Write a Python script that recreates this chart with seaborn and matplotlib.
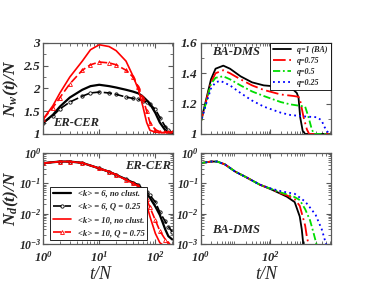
import numpy as np
import matplotlib
matplotlib.use("Agg")
import matplotlib.pyplot as plt
from matplotlib.ticker import AutoMinorLocator, LogLocator, NullFormatter
import seaborn as sns

# top left: N_w(t)/N, ER-CER
tl_x = [1, 1.5, 2, 3, 5, 7, 10, 15, 20, 30, 40, 50, 60, 70, 80, 100, 120, 150, 170, 200]
tl_k6 = [1.24, 1.42, 1.6, 1.8, 1.97, 2.05, 2.08, 2.05, 2.02, 1.97, 1.93, 1.89, 1.82, 1.74, 1.66, 1.46, 1.25, 1.08, 1.03, 1.02]
tl_k6q = [1.24, 1.4, 1.55, 1.7, 1.83, 1.9, 1.92, 1.9, 1.87, 1.81, 1.78, 1.76, 1.73, 1.7, 1.65, 1.54, 1.36, 1.16, 1.08, 1.03]
tl_k10 = [1.32, 1.62, 1.9, 2.25, 2.6, 2.85, 2.96, 2.92, 2.83, 2.6, 2.27, 1.97, 1.6, 1.25, 1.08, 1.04, 1.03, 1.03, 1.03, 1.03]
tl_k10q = [1.32, 1.58, 1.8, 2.1, 2.4, 2.52, 2.58, 2.56, 2.52, 2.4, 2.25, 2.03, 1.78, 1.5, 1.25, 1.09, 1.05, 1.04, 1.04, 1.04]

# bottom left: N_d(t)/N, ER-CER
bl_x = [1, 2, 3, 5, 10, 15, 20, 30, 40, 50, 60, 70, 80, 100, 120, 150, 170, 200]
bl_k6 = [0.46, 0.52, 0.52, 0.47, 0.31, 0.24, 0.19, 0.135, 0.105, 0.085, 0.062, 0.045, 0.033, 0.017, 0.009, 0.003, 0.0018, 0.0014]
bl_k6q = [0.46, 0.52, 0.52, 0.47, 0.31, 0.24, 0.19, 0.135, 0.105, 0.088, 0.066, 0.053, 0.04, 0.024, 0.011, 0.0055, 0.0037, 0.0025]
bl_k10 = [0.46, 0.52, 0.52, 0.47, 0.31, 0.24, 0.19, 0.13, 0.1, 0.08, 0.05, 0.02, 0.008, 0.0022, 0.0011, 0.0008, 0.0007, 0.0007]
bl_k10q = [0.46, 0.52, 0.52, 0.47, 0.31, 0.24, 0.19, 0.13, 0.1, 0.082, 0.055, 0.03, 0.016, 0.006, 0.0027, 0.0014, 0.0011, 0.0008]

# top right: N_w(t)/N, BA-DMS
tr_x_q1 = [1, 1.5, 2, 2.7, 4.5, 7, 14, 30, 65, 200, 465, 575, 645, 720, 850, 1000, 5000]
tr_q1 = [1.07, 1.24, 1.36, 1.43, 1.45, 1.43, 1.38, 1.34, 1.32, 1.31, 1.29, 1.27, 1.24, 1.11, 1.02, 1.0, 1.0]
tr_x_q75 = [1, 1.5, 2, 2.7, 4.5, 7, 14, 30, 65, 200, 465, 645, 720, 900, 1120, 1300, 5000]
tr_q75 = [1.07, 1.23, 1.34, 1.4, 1.42, 1.4, 1.36, 1.32, 1.29, 1.26, 1.25, 1.245, 1.22, 1.11, 1.03, 1.0, 1.0]
tr_x_q5 = [1, 1.5, 2, 2.7, 4.5, 7, 14, 30, 65, 200, 370, 720, 1000, 1250, 1550, 1800, 5000]
tr_q5 = [1.07, 1.22, 1.33, 1.37, 1.38, 1.36, 1.32, 1.28, 1.25, 1.21, 1.195, 1.185, 1.18, 1.11, 1.03, 1.0, 1.0]
tr_x_q25 = [1, 1.5, 2, 2.7, 3.7, 7, 14, 30, 65, 200, 370, 1000, 2150, 2950, 3500, 4150, 5000]
tr_q25 = [1.07, 1.21, 1.3, 1.34, 1.35, 1.32, 1.27, 1.22, 1.18, 1.14, 1.125, 1.115, 1.11, 1.09, 1.05, 1.02, 1.0]

# bottom right: N_d(t)/N, BA-DMS
br_x_q1 = [1, 2, 3, 5, 10, 20, 50, 100, 200, 300, 500, 700, 800, 900]
br_q1 = [0.46, 0.52, 0.52, 0.42, 0.24, 0.16, 0.09, 0.065, 0.045, 0.036, 0.024, 0.008, 0.003, 0.0008]
br_x_q75 = [1, 2, 3, 5, 10, 20, 50, 100, 200, 300, 500, 700, 900, 1000, 1120, 1300]
br_q75 = [0.46, 0.52, 0.52, 0.42, 0.24, 0.16, 0.09, 0.066, 0.047, 0.04, 0.03, 0.018, 0.0063, 0.004, 0.0017, 0.0008]
br_x_q5 = [1, 2, 3, 5, 10, 20, 50, 100, 200, 300, 500, 700, 1000, 1380, 1740, 2150]
br_q5 = [0.46, 0.52, 0.52, 0.42, 0.24, 0.16, 0.09, 0.067, 0.05, 0.043, 0.035, 0.028, 0.014, 0.006, 0.0023, 0.0009]
br_x_q25 = [1, 2, 3, 5, 10, 20, 50, 100, 200, 300, 500, 1000, 1500, 2000, 3000, 3700, 4200]
br_q25 = [0.46, 0.52, 0.52, 0.42, 0.24, 0.16, 0.09, 0.068, 0.055, 0.05, 0.045, 0.025, 0.014, 0.009, 0.003, 0.0013, 0.0008]

er_labels = ["<k> = 6, no clust.", "<k> = 6, Q = 0.25", "<k> = 10, no clust.", "<k> = 10, Q = 0.75"]
ba_labels = ["q=1 (BA)", "q=0.75", "q=0.5", "q=0.25"]

sns.set_style("ticks")
plt.rcParams["font.family"] = ["Liberation Serif", "DejaVu Serif"]
plt.rcParams["font.weight"] = "bold"
plt.rcParams["font.style"] = "italic"
plt.rcParams["mathtext.fontset"] = "custom"
plt.rcParams["mathtext.rm"] = "Liberation Serif:italic:bold"
plt.rcParams["mathtext.it"] = "Liberation Serif:italic:bold"
plt.rcParams["mathtext.bf"] = "Liberation Serif:italic:bold"
plt.rcParams["axes.edgecolor"] = "0.35"
plt.rcParams["axes.linewidth"] = 0.9

fig, axes = plt.subplots(2, 2, figsize=(3.74, 2.88), dpi=100)
fig.subplots_adjust(left=0.115, right=0.885, top=0.851, bottom=0.153, wspace=0.207, hspace=0.209)
ax_tl, ax_tr = axes[0]
ax_bl, ax_br = axes[1]

er_styles = [
    dict(color="black", linestyle="-", lw=1.6),
    dict(color="black", linestyle=(0, (5, 2)), lw=1.2, marker="o", markersize=2.4,
         markerfacecolor="none", markeredgecolor="black", markeredgewidth=0.6),
    dict(color="red", linestyle="-", lw=1.2),
    dict(color="red", linestyle=(0, (5, 2)), lw=1.2, marker="^", markersize=2.8,
         markerfacecolor="none", markeredgecolor="red", markeredgewidth=0.6),
]
ba_colors = ["black", "red", "#00dd00", "blue"]
ba_dashes = ["-", (0, (7, 2, 1, 2)), (0, (4, 1.5, 1, 1.5)), (0, (1, 1.8))]

for ys, st, lab in zip([tl_k6, tl_k6q, tl_k10, tl_k10q], er_styles, er_labels):
    sns.lineplot(x=tl_x, y=ys, ax=ax_tl, label=lab, **st)
for ys, st, lab in zip([bl_k6, bl_k6q, bl_k10, bl_k10q], er_styles, er_labels):
    sns.lineplot(x=bl_x, y=ys, ax=ax_bl, label=lab, **st)
for xs, ys, c, ls, lab in zip([tr_x_q1, tr_x_q75, tr_x_q5, tr_x_q25], [tr_q1, tr_q75, tr_q5, tr_q25],
                              ba_colors, ba_dashes, ba_labels):
    sns.lineplot(x=xs, y=ys, ax=ax_tr, color=c, linestyle=ls, lw=1.3, label=lab)
for xs, ys, c, ls, lab in zip([br_x_q1, br_x_q75, br_x_q5, br_x_q25], [br_q1, br_q75, br_q5, br_q25],
                              ba_colors, ba_dashes, ba_labels):
    sns.lineplot(x=xs, y=ys, ax=ax_br, color=c, linestyle=ls, lw=1.3, label=lab)

for ax in axes.flat:
    ax.set_xscale("log")
    ax.tick_params(which="both", direction="in", top=True, right=True, labelsize=9.5, color="0.35", pad=2)
    ax.tick_params(which="major", length=3.5, width=0.8)
    ax.tick_params(which="minor", length=2, width=0.6)
    ax.xaxis.set_minor_locator(LogLocator(base=10, subs=np.arange(2, 10), numticks=20))
    ax.xaxis.set_minor_formatter(NullFormatter())
    ax.set_xlabel("")
    ax.set_ylabel("")

ax_tl.set_xlim(1, 210)
ax_bl.set_xlim(1, 210)
ax_tr.set_xlim(1, 5500)
ax_br.set_xlim(1, 5500)
ax_tl.set_ylim(1, 3)
ax_tr.set_ylim(1, 1.6)
ax_tl.set_yticks([1, 1.5, 2, 2.5, 3])
ax_tl.set_yticklabels(["1", "1.5", "2", "2.5", "3"])
ax_tr.set_yticks([1, 1.2, 1.4, 1.6])
ax_tr.set_yticklabels(["1", "1.2", "1.4", "1.6"])
for ax in (ax_tl, ax_tr):
    ax.yaxis.set_minor_locator(AutoMinorLocator(2))
    ax.set_xticklabels([])
for ax in (ax_bl, ax_br):
    ax.set_yscale("log")
    ax.set_ylim(1e-3, 1)
    ax.yaxis.set_minor_locator(LogLocator(base=10, subs=np.arange(2, 10), numticks=20))
    ax.yaxis.set_minor_formatter(NullFormatter())
    ax.tick_params(axis="y", labelsize=8.5, pad=1)
    ax.tick_params(axis="x", labelsize=9, pad=4.5)
    ax.set_xlabel("t/N", fontsize=13, labelpad=0)
ax_bl.xaxis.set_label_coords(0.44, -0.24)
ax_br.xaxis.set_label_coords(0.5, -0.24)

fig.text(11 / 374, 0.693, "$N_w(t)/N$", fontsize=12.5, rotation=90, ha="center", va="center")
fig.text(11 / 374, 0.311, "$N_d(t)/N$", fontsize=12.5, rotation=90, ha="center", va="center")

ax_tl.text(0.08, 0.12, "ER-CER", transform=ax_tl.transAxes, fontsize=9, va="center", ha="left")
ax_bl.text(0.98, 0.86, "ER-CER", transform=ax_bl.transAxes, fontsize=9, va="center", ha="right")
ax_tr.text(0.09, 0.9, "BA-DMS", transform=ax_tr.transAxes, fontsize=9, va="center", ha="left")
ax_br.text(0.09, 0.15, "BA-DMS", transform=ax_br.transAxes, fontsize=9, va="center", ha="left")

ax_tl.get_legend().remove()
ax_br.get_legend().remove()
leg = ax_bl.legend(loc="lower left", bbox_to_anchor=(0.05, 0.04), fontsize=6.2, frameon=True,
                   fancybox=False, edgecolor="black", framealpha=1, handlelength=2.2,
                   labelspacing=0.6, borderpad=0.35, handletextpad=0.7, borderaxespad=0)
leg.get_frame().set_linewidth(0.6)
leg2 = ax_tr.legend(loc="upper right", fontsize=5.8, frameon=True, fancybox=False, edgecolor="black",
                    framealpha=1, handlelength=2.2, labelspacing=0.35, borderpad=0.4,
                    handletextpad=0.8, borderaxespad=0)
leg2.get_frame().set_linewidth(0.6)

fig.savefig("out.png", dpi=100)
